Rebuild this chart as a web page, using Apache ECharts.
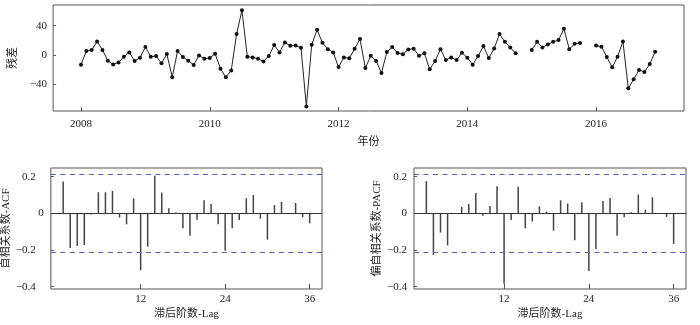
<!DOCTYPE html>
<html><head><meta charset="utf-8">
<script src="https://cdn.jsdelivr.net/npm/echarts@6/dist/echarts.min.js"></script>
<style>html,body{margin:0;padding:0;background:#fff}#c{width:700px;height:325px}</style>
</head><body><div id="c"></div>
<script>
// Residuals, monthly Jan 2008 - Dec 2016 (null = missing)
const startYear = 2008;
const res2008 = [-13, 5.4, 6.8, 18.5, 7, -7.7, -12.7, -10, -2.3, 3.6, -8, -3.6];
const res2009 = [10.8, -2.3, -1.4, -11.3, 1.4, -30, 5.4, -2.7, -7.7, -13.6, -0.5, -5];
const res2010 = [-4, 1.8, -18.5, -30, -21, 28.5, 61, -2.3, -3.2, -5, -8.6, -1.4];
const res2011 = [13.6, 3.6, 17.2, 12.7, 13, 10, -70, 14, 34.4, 16.7, 8, 3.6];
const res2012 = [-16.3, -3.2, -4.5, 8.6, 21.7, -17.6, -1, -8, -24.4, 4, 10.8, 2.7];
const res2013 = [1, 7.7, 8.6, -1, 2.3, -19.4, -8, 8, -6.8, -3.2, -6.8, 3.2];
const res2014 = [-3.6, -13, -1.4, 12.2, -4, 9, 28.5, 18, 10.4, 2.3, null, null];
const res2015 = [6.8, 18, 10.4, 14.5, 18, 20.3, 35.7, 8, 15.4, 16.3, null, null];
const res2016 = [13, 11.3, -2.7, -16.7, -2.3, 18.5, -45.2, -33, -20.3, -23, -12.2, 4.5];

const yearTicks = [2008, 2010, 2012, 2014, 2016];
const resTicks = [-40, 0, 40];
const lagTicks = [12, 24, 36];
const corrTicks = [-0.4, -0.2, 0, 0.2];
const confLimit = 0.214;

const acf = [0.173, -0.19, -0.178, -0.173, -0.007, 0.115, 0.115, 0.122, -0.024, -0.06, 0.082, -0.31,
  -0.182, 0.205, 0.113, 0.027, 0.004, -0.082, -0.122, -0.035, 0.071, 0.051, -0.06, -0.205,
  -0.082, -0.036, 0.082, 0.1, -0.029, -0.144, 0.045, 0.062, -0.003, 0.056, -0.022, -0.055];
const pacf = [0.175, -0.227, -0.105, -0.175, -0.002, 0.035, 0.051, 0.111, -0.013, 0.04, 0.147, -0.385,
  -0.036, 0.145, -0.082, -0.045, 0.038, 0.009, -0.095, 0.071, 0.053, -0.147, 0.06, -0.315,
  -0.195, 0.067, 0.084, -0.122, -0.022, 0.005, 0.102, 0.02, 0.087, 0.001, -0.02, -0.167];

const residuals = [].concat(res2008, res2009, res2010, res2011, res2012, res2013, res2014, res2015, res2016);
const resData = residuals.map((v, i) => [startYear + i / 12, v]);
const acfData = acf.map((v, i) => [i + 1, v]);
const pacfData = pacf.map((v, i) => [i + 1, v]);

const serif = 'Liberation Serif, Noto Sans CJK SC';
const cjk = 'Liberation Serif, Noto Sans CJK SC';
const frame = '#555';
const minus = v => (v < 0 ? '\u2212' + String(-v) : String(v));

function xAxisCommon(extra) {
  return Object.assign({
    type: 'value', axisLine: { show: false, onZero: false }, splitLine: { show: false },
    nameLocation: 'middle',
    nameTextStyle: { fontFamily: cjk, fontSize: 11, color: '#222' },
  }, extra);
}
function yAxisCommon(extra) {
  return Object.assign({
    type: 'value', axisLine: { show: false, onZero: false }, splitLine: { show: false },
    nameLocation: 'middle', nameRotate: 90,
    nameTextStyle: { fontFamily: cjk, fontSize: 11, color: '#222' },
  }, extra);
}
const lbl = (vals, margin, fmt) => ({ customValues: vals, margin: margin, fontFamily: serif, fontSize: 11, color: '#222', formatter: fmt });
const tick = (vals, len) => ({ inside: true, length: len, customValues: vals, lineStyle: { color: frame } });

const dashStyle = () => ({ color: '#5a5ab8', type: [5, 4.5], width: 1, opacity: 1 });
function refLines() {
  return {
    silent: true, symbol: 'none', label: { show: false }, precision: 4,
    data: [
      { yAxis: 0, lineStyle: { color: '#333', type: 'solid', width: 1 } },
      { yAxis: confLimit, lineStyle: dashStyle() },
      { yAxis: -confLimit, lineStyle: dashStyle() }
    ]
  };
}

const chart = echarts.init(document.getElementById('c'), null, { renderer: 'canvas' });
chart.setOption({
  animation: false,
  grid: [
    { left: 51, top: 5, right: 16, bottom: 214, show: true, borderColor: frame, borderWidth: 1 },
    { left: 49, top: 168, right: 378, bottom: 36, show: true, borderColor: frame, borderWidth: 1 },
    { left: 414, top: 168, right: 14, bottom: 36, show: true, borderColor: frame, borderWidth: 1 }
  ],
  xAxis: [
    xAxisCommon({ gridIndex: 0, min: 2007.567, max: 2017.365, name: '年份', nameGap: 26,
      axisTick: tick(yearTicks, 4), axisLabel: lbl(yearTicks, 8, v => String(v)) }),
    xAxisCommon({ gridIndex: 1, min: -0.75, max: 37.75, name: '滞后阶数-Lag', nameGap: 20,
      axisTick: tick(lagTicks, 5), axisLabel: lbl(lagTicks, 5, v => String(v)) }),
    xAxisCommon({ gridIndex: 2, min: -0.75, max: 37.75, name: '滞后阶数-Lag', nameGap: 20,
      axisTick: tick(lagTicks, 5), axisLabel: lbl(lagTicks, 5, v => String(v)) })
  ],
  yAxis: [
    yAxisCommon({ gridIndex: 0, min: -76, max: 68, name: '残差', nameGap: 31,
      axisTick: tick(resTicks, 3), axisLabel: lbl(resTicks, 6, v => minus(v)) }),
    yAxisCommon({ gridIndex: 1, min: -0.413, max: 0.247, name: '自相关系数-ACF', nameGap: 32,
      axisTick: tick(corrTicks, 3),
      axisLabel: Object.assign(lbl(corrTicks, 7, v => (Math.abs(v) < 1e-9 ? '0' : '{p|' + minus(+v.toFixed(1)) + '}')),
        { rich: { p: { fontFamily: serif, fontSize: 11, color: '#222', padding: [0, 8, 0, 0] } } }) }),
    yAxisCommon({ gridIndex: 2, min: -0.413, max: 0.247, name: '偏自相关系数-PACF', nameGap: 31,
      axisTick: tick(corrTicks, 3),
      axisLabel: lbl(corrTicks, 7, v => (Math.abs(v) < 1e-9 ? '0' : minus(+v.toFixed(1)))) })
  ],
  series: [
    { type: 'line', xAxisIndex: 0, yAxisIndex: 0, data: resData, connectNulls: false,
      symbol: 'circle', symbolSize: 4, showSymbol: true,
      lineStyle: { color: '#222', width: 1 }, itemStyle: { color: '#111' } },
    { type: 'bar', xAxisIndex: 1, yAxisIndex: 1, data: acfData, barWidth: 1.5,
      itemStyle: { color: '#444' } },
    { type: 'bar', xAxisIndex: 2, yAxisIndex: 2, data: pacfData, barWidth: 1.5,
      itemStyle: { color: '#444' } },
    { type: 'line', xAxisIndex: 1, yAxisIndex: 1, data: [], markLine: refLines() },
    { type: 'line', xAxisIndex: 2, yAxisIndex: 2, data: [], markLine: refLines() }
  ]
});
</script></body></html>
